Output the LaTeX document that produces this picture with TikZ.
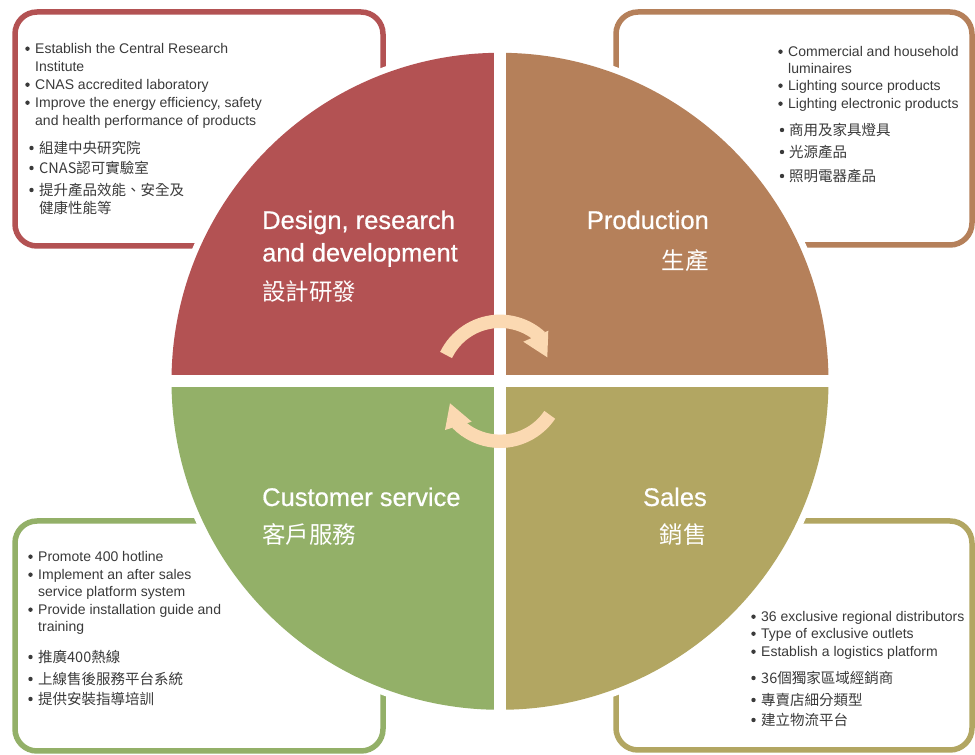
\documentclass[tikz,border=0pt]{standalone}
\usepackage{fontspec}
\newfontfamily\latinf{Liberation Sans}
\newfontfamily\headf[FakeBold=0.6]{Liberation Sans}
\newfontfamily\cjkf{Noto Sans CJK TC}
\newfontfamily\cjkheadf{Noto Sans CJK TC Medium}
\definecolor{qred}{HTML}{B35253}
\definecolor{qbrown}{HTML}{B5805A}
\definecolor{qgreen}{HTML}{93B068}
\definecolor{qolive}{HTML}{B2A662}
\definecolor{arc}{HTML}{FBD9B2}
\definecolor{txt}{HTML}{3A3A3A}
\begin{document}
\begin{tikzpicture}[x=1pt,y=1pt,
  panel/.style={line width=5.5pt, rounded corners=22pt},
  body/.style={font=\latinf\fontsize{14}{16}\selectfont, text=txt, anchor=base west, inner sep=0pt},
  cbody/.style={font=\cjkf\fontsize{14.5}{16}\selectfont, text=txt, anchor=west, inner sep=0pt},
  head/.style={font=\headf\fontsize{25.5}{28}\selectfont, text=white, inner sep=0pt},
  chead/.style={font=\cjkf\fontsize{23.5}{26}\selectfont, text=white, inner sep=0pt},
  arrowband/.style={draw=arc, line width=13.4pt}]
\useasboundingbox (0,0) rectangle (975,755);
\fill[white] (0,0) rectangle (975,755);

% corner panels
\draw[panel, qred]   (15,509) rectangle (383,743);
\draw[panel, qbrown] (616,510) rectangle (972,743);
\draw[panel, qgreen] (15,4) rectangle (383,234);
\draw[panel, qolive] (616,5) rectangle (972,234);

% central circle
\coordinate (C) at (500,373.7);
\fill[white] (C) circle (335);
\fill[qbrown] (C) -- ++(0:328.5) arc[start angle=0, end angle=90, radius=328.5] -- cycle;
\fill[qred]   (C) -- ++(90:328.5) arc[start angle=90, end angle=180, radius=328.5] -- cycle;
\fill[qgreen] (C) -- ++(180:328.5) arc[start angle=180, end angle=270, radius=328.5] -- cycle;
\fill[qolive] (C) -- ++(270:328.5) arc[start angle=270, end angle=360, radius=328.5] -- cycle;
\draw[white, line width=12pt] (C) ++(0,-340) -- ++(0,680);
\draw[white, line width=12pt] (C) ++(-340,0) -- ++(680,0);

% cycle arrows
\draw[arrowband] (C) ++(154:60) arc[start angle=154, end angle=47.6, radius=60];
\fill[arc] (523.3,413.3) -- (548.3,424.3) -- (547.3,397.7) -- cycle;
\draw[arrowband] (C) ++(-34:60) arc[start angle=-34, end angle=-135.9, radius=60];
\fill[arc] (471.7,333.3) -- (445,325) -- (450,351.7) -- cycle;

% headings
\node[head, anchor=base west] (h1a) at (262,526) {Design, research};
\node[head, anchor=base west] (h1b) at (262,493.5) {and development};
\node[chead, anchor=west] (h1c) at (262,463) {設計研發};
\node[head, anchor=base east] (h2a) at (709,526) {Production};
\node[chead, anchor=east] (h2b) at (709,494) {生產};
\node[head, anchor=base west] (h3a) at (262,249) {Customer service};
\node[chead, anchor=west] (h3b) at (262,220) {客戶服務};
\node[head, anchor=base east] (h4a) at (707,249) {Sales};
\node[chead, anchor=east] (h4b) at (707,220) {銷售};

% top-left texts
\foreach \n/\y/\b/\t in {1/701/1/{Establish the Central Research}, 2/683/0/{Institute},
  3/665/1/{CNAS accredited laboratory}, 4/647/1/{Improve the energy efficiency, safety},
  5/629/0/{and health performance of products}}{
  \node[body] (tle\n) at (35,\y) {\t};
  \ifnum\b=1 \fill[txt] (27.5,{\y+5.3}) circle (2.2); \fi
}
\foreach \n/\y/\b/\t in {1/607/1/{組建中央研究院}, 2/587/1/{CNAS認可實驗室},
  3/565/1/{提升產品效能、安全及}, 4/547/0/{健康性能等}}{
  \node[cbody] (tlc\n) at (39,\y) {\t};
  \ifnum\b=1 \fill[txt] (31.5,\y) circle (2.2); \fi
}

% top-right texts
\foreach \n/\y/\b/\t in {1/698/1/{Commercial and household}, 2/681/0/{luminaires},
  3/664/1/{Lighting source products}, 4/646/1/{Lighting electronic products}}{
  \node[body] (tre\n) at (788,\y) {\t};
  \ifnum\b=1 \fill[txt] (780.5,{\y+5.3}) circle (2.2); \fi
}
\foreach \n/\y/\t in {1/625/{商用及家具燈具}, 2/603/{光源產品}, 3/579/{照明電器產品}}{
  \node[cbody] (trc\n) at (789,\y) {\t};
  \fill[txt] (782,\y) circle (2.2);
}

% bottom-left texts
\foreach \n/\y/\b/\t in {1/193/1/{Promote 400 hotline}, 2/175/1/{Implement an after sales},
  3/158/0/{service platform system}, 4/140/1/{Provide installation guide and},
  5/123/0/{training}}{
  \node[body] (ble\n) at (38,\y) {\t};
  \ifnum\b=1 \fill[txt] (30.5,{\y+5.3}) circle (2.2); \fi
}
\foreach \n/\y/\t in {1/98/{推廣400熱線}, 2/76/{上線售後服務平台系統}, 3/56/{提供安裝指導培訓}}{
  \node[cbody] (blc\n) at (38,\y) {\t};
  \fill[txt] (30.5,\y) circle (2.2);
}

% bottom-right texts
\foreach \n/\y/\t in {1/133/{36 exclusive regional distributors}, 2/116/{Type of exclusive outlets},
  3/98/{Establish a logistics platform}}{
  \node[body] (bre\n) at (761,\y) {\t};
  \fill[txt] (753.5,{\y+5.3}) circle (2.2);
}
\foreach \n/\y/\t in {1/77/{36個獨家區域經銷商}, 2/55/{專賣店細分類型}, 3/35/{建立物流平台}}{
  \node[cbody] (brc\n) at (761,\y) {\t};
  \fill[txt] (753.5,\y) circle (2.2);
}
\end{tikzpicture}
\end{document}
